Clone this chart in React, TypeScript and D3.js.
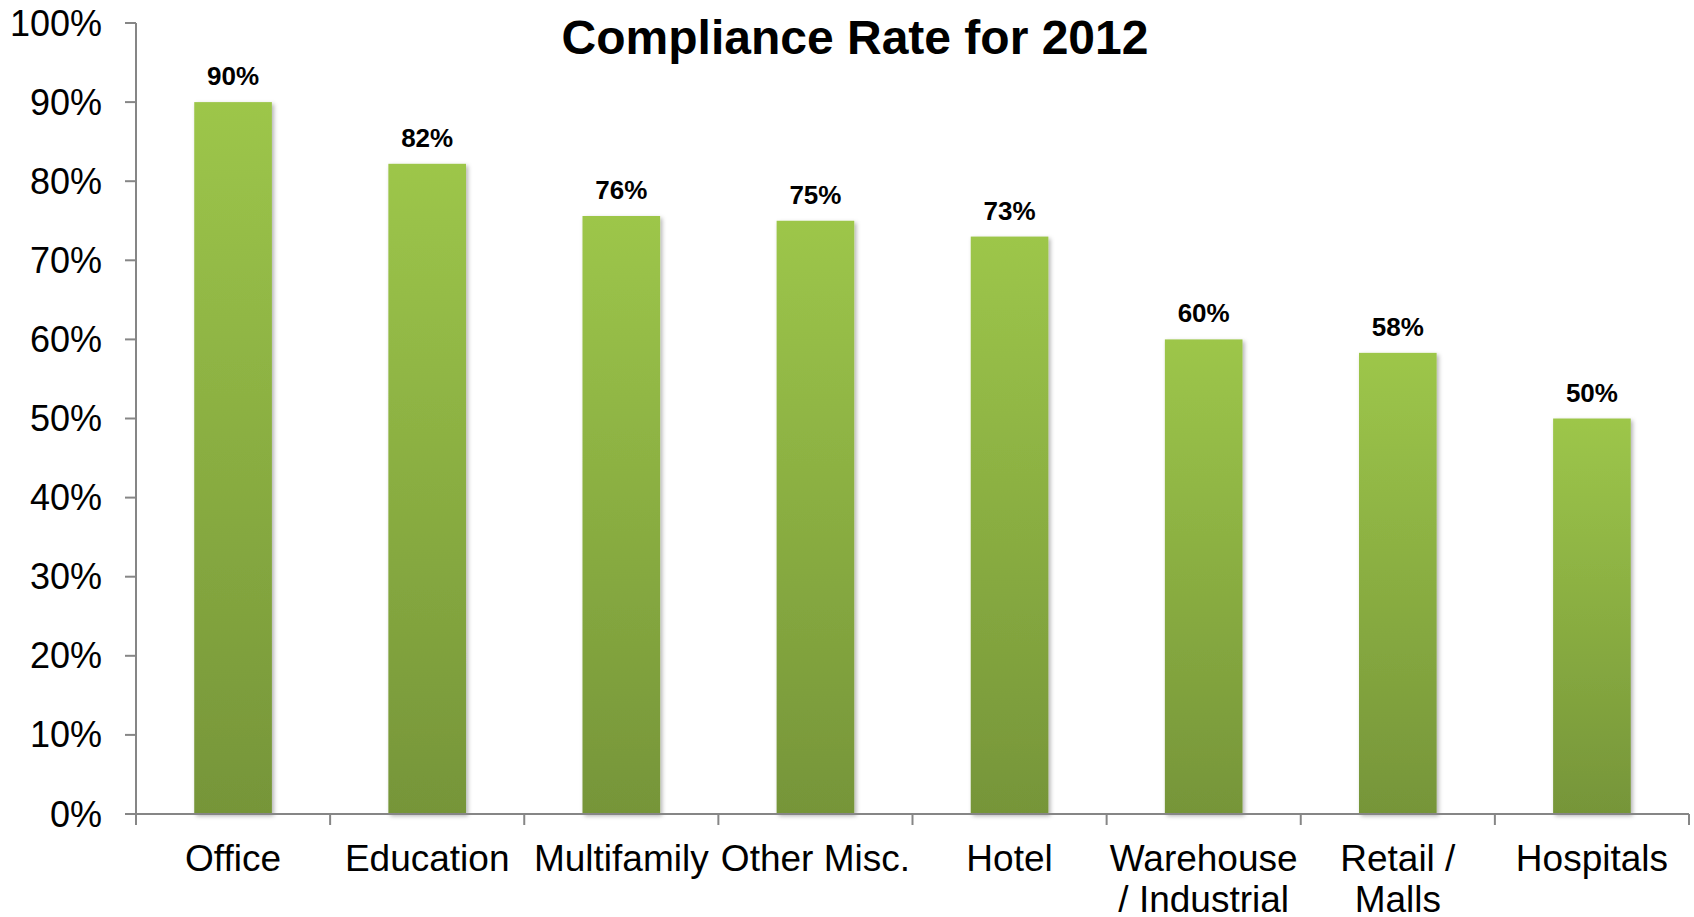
import React from "react";
import * as d3 from "d3";

const title = "Compliance Rate for 2012";
const categories: string[][] = [
  ["Office"],
  ["Education"],
  ["Multifamily"],
  ["Other Misc."],
  ["Hotel"],
  ["Warehouse", "/ Industrial"],
  ["Retail /", "Malls"],
  ["Hospitals"],
];
const values = [90, 82.2, 75.6, 75, 73, 60, 58.3, 50];
const valueLabels = ["90%", "82%", "76%", "75%", "73%", "60%", "58%", "50%"];
const yTicks = [0, 10, 20, 30, 40, 50, 60, 70, 80, 90, 100];

const W = 1694;
const H = 917;
const left = 136;
const right = 1689;
const top = 23;
const bottom = 814;

export default function App() {
  const x = d3
    .scaleBand<number>()
    .domain(d3.range(categories.length))
    .range([left, right])
    .paddingInner(0.6)
    .paddingOuter(0.3);
  const y = d3.scaleLinear().domain([0, 100]).range([bottom, top]);
  const step = (right - left) / categories.length;
  const boundaries = d3.range(categories.length + 1).map((i) => left + i * step);
  const axisColor = "#868686";
  const font = "Arial, 'Liberation Sans', sans-serif";

  return (
    <svg
      width={W}
      height={H}
      style={{ position: "absolute", left: 0, top: 0, display: "block", background: "#fff" }}
      fontFamily={font}
    >
      <defs>
        <linearGradient id="barGrad" x1="0" y1="0" x2="0" y2="1">
          <stop offset="0%" stopColor="#9dc64a" />
          <stop offset="100%" stopColor="#769539" />
        </linearGradient>
        <filter id="shadow" x="-20%" y="-5%" width="140%" height="110%">
          <feDropShadow dx="2" dy="2" stdDeviation="2" floodColor="#000" floodOpacity="0.3" />
        </filter>
      </defs>
      <rect width={W} height={H} fill="#fff" />

      <text x={855} y={54} textAnchor="middle" fontSize={48} fontWeight="bold" fill="#000">
        {title}
      </text>

      {values.map((v, i) => (
        <g key={i}>
          <rect
            x={x(i)!}
            y={y(v)}
            width={x.bandwidth()}
            height={bottom - y(v)}
            fill="url(#barGrad)"
            filter="url(#shadow)"
          />
          <text
            x={x(i)! + x.bandwidth() / 2}
            y={y(v) - 17}
            textAnchor="middle"
            fontSize={26}
            fontWeight="bold"
            fill="#000"
          >
            {valueLabels[i]}
          </text>
        </g>
      ))}

      {/* y axis */}
      <line x1={left} x2={left} y1={top} y2={bottom} stroke={axisColor} strokeWidth={2} />
      {yTicks.map((t) => (
        <g key={t}>
          <line x1={left - 11} x2={left} y1={y(t)} y2={y(t)} stroke={axisColor} strokeWidth={2} />
          <text x={102} y={y(t) + 12.5} textAnchor="end" fontSize={36} fill="#000">
            {t}%
          </text>
        </g>
      ))}

      {/* x axis */}
      <line x1={left - 11} x2={right} y1={bottom} y2={bottom} stroke={axisColor} strokeWidth={2} />
      {boundaries.map((b, i) => (
        <line key={i} x1={b} x2={b} y1={bottom} y2={bottom + 11} stroke={axisColor} strokeWidth={2} />
      ))}
      {categories.map((lines, i) => (
        <text
          key={i}
          x={x(i)! + x.bandwidth() / 2}
          y={871}
          textAnchor="middle"
          fontSize={37}
          fill="#000"
        >
          {lines.map((l, j) => (
            <tspan key={j} x={x(i)! + x.bandwidth() / 2} dy={j === 0 ? 0 : 41}>
              {l}
            </tspan>
          ))}
        </text>
      ))}
    </svg>
  );
}
